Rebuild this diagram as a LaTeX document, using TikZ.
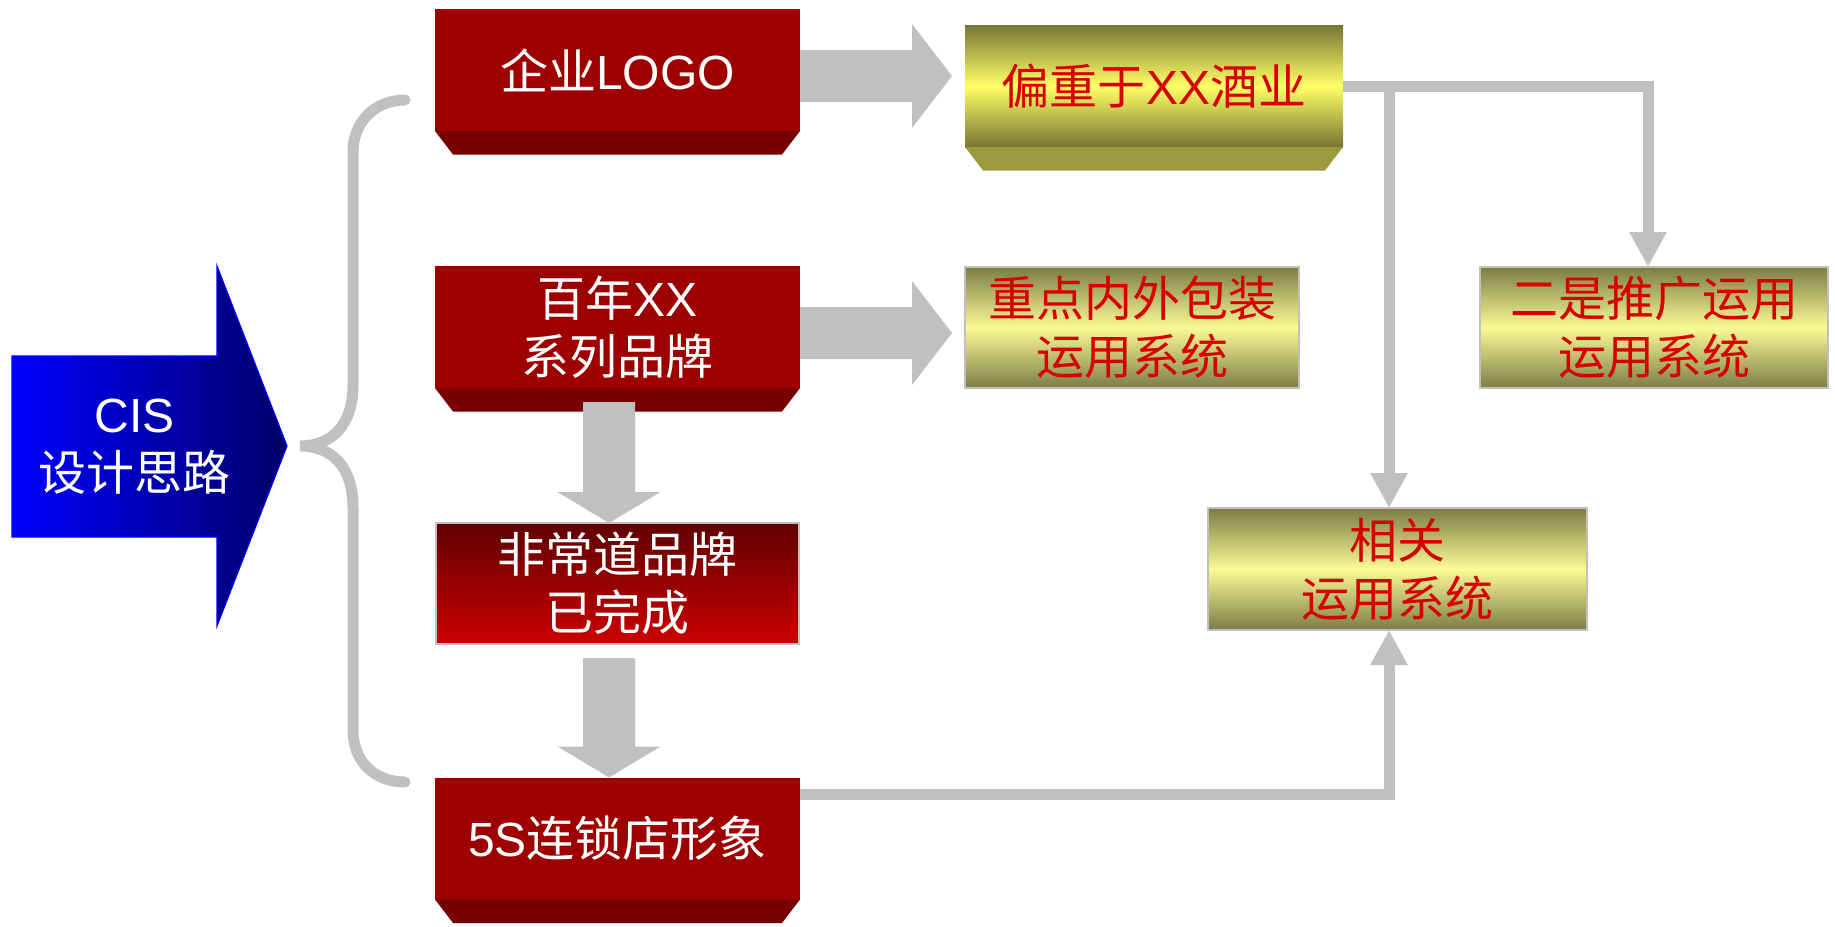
\documentclass[tikz,border=0pt]{standalone}
\usepackage{fontspec}
\setmainfont{Liberation Sans}
\newfontfamily\cjk{Noto Sans CJK SC}
\usetikzlibrary{arrows.meta,calc}
\definecolor{rfront}{RGB}{158,0,0}
\definecolor{rbevel}{RGB}{120,0,0}
\definecolor{rtop}{RGB}{96,0,0}
\definecolor{rbot}{RGB}{204,0,0}
\definecolor{yolive}{RGB}{118,118,52}
\definecolor{ymid}{RGB}{255,255,102}
\definecolor{ybevel}{RGB}{154,154,62}
\definecolor{polive}{RGB}{124,124,70}
\definecolor{pmid}{RGB}{250,250,150}
\definecolor{agray}{RGB}{192,192,192}
\definecolor{bleft}{RGB}{0,0,255}
\definecolor{bright}{RGB}{0,0,105}
\definecolor{ytext}{RGB}{215,0,0}
\newcommand\mybevel[2]{\fill[#2] (#1.south west) -- (#1.south east) -- ([shift={(-9pt,-11.75pt)}]#1.south east) -- ([shift={(9pt,-11.75pt)}]#1.south west) -- cycle;}
\newcommand\rarrow[2]{\fill[agray] let \p1=(#1.east), \p2=(#2.west) in
 (\x1,\y1+10pt) -- (\x2-26.5pt,\y1+10pt) -- (\x2-26.5pt,\y1+23pt) -- (\x2-6.5pt,\y1-3pt) -- (\x2-26.5pt,\y1-29pt) -- (\x2-26.5pt,\y1-16pt) -- (\x1,\y1-16pt) -- cycle;}
\newcommand\darrow[2]{\fill[agray] let \p1=(#1.south), \p2=(#2.north) in
 (\x1-17.25pt,\y1-7pt) -- (\x1+8.75pt,\y1-7pt) -- (\x1+8.75pt,\y2+15.5pt) -- (\x1+21.5pt,\y2+15.5pt) -- (\x1-4.25pt,\y2) -- (\x1-30pt,\y2+15.5pt) -- (\x1-17.25pt,\y2+15.5pt) -- cycle;}
\begin{document}
\begin{tikzpicture}[x=0.5pt,y=-0.5pt,
  box/.style={minimum width=182.5pt, minimum height=61pt, inner sep=0pt, outer sep=0pt, align=center, font=\fontsize{24pt}{29pt}\selectfont},
  redbox/.style={box, fill=rfront, text=white},
  ybox/.style={box, text=ytext, top color=yolive, bottom color=yolive, middle color=ymid},
  pbox/.style={box, text=ytext, draw=agray, line width=1pt, top color=polive, bottom color=polive, middle color=pmid},
  conn/.style={draw=agray, line width=5.5pt, -{Triangle[width=17.5pt,length=17.5pt]}},
]
\useasboundingbox (0,0) rectangle (1835,926);
% CIS arrow
\shadedraw[left color=bleft, right color=bright, draw=blue, line width=0.6pt]
  (12,356) -- (217,356) -- (217,266) -- (287,446) -- (217,626) -- (217,537) -- (12,537) -- cycle;
\node[font=\fontsize{24pt}{29pt}\selectfont, text=white, align=center] (cis) at (135,447) {CIS\\{\cjk 设计思路}};
% brace
\draw[agray, line width=5.5pt, line cap=round] (405,100) .. controls (375,100) and (353,122) .. (353,152) -- (353,385) .. controls (353,425) and (332,446) .. (300,446) .. controls (332,446) and (353,467) .. (353,507) -- (353,730) .. controls (353,762) and (375,782) .. (405,782);
% red boxes
\node[redbox] (r1) at (617.5,70) {{\cjk 企业}LOGO};
\node[redbox] (r2) at (617.5,327) {{\cjk 百年}XX\\{\cjk 系列品牌}};
\node[box, text=white, top color=rtop, bottom color=rbot, draw=agray, line width=1pt, minimum width=181.5pt, minimum height=60.5pt] (r3) at (617.5,583.5) {{\cjk 非常道品牌}\\{\cjk 已完成}};
\node[redbox] (r4) at (617.5,838.5) {5S{\cjk 连锁店形象}};
\mybevel{r1}{rbevel}
\mybevel{r2}{rbevel}
\mybevel{r4}{rbevel}
% yellow boxes
\node[ybox, minimum width=189pt] (y1) at (1154,86) {{\cjk 偏重于}XX{\cjk 酒业}};
\mybevel{y1}{ybevel}
\node[pbox, minimum width=167pt, minimum height=60.5pt] (y2) at (1132,327.5) {{\cjk 重点内外包装}\\{\cjk 运用系统}};
\node[pbox, minimum width=174pt, minimum height=60.5pt] (y3) at (1654,327.5) {{\cjk 二是推广运用}\\{\cjk 运用系统}};
\node[pbox, minimum width=189.5pt, minimum height=61pt] (y4) at (1397.5,569) {{\cjk 相关}\\{\cjk 运用系统}};
% block arrows
\rarrow{r1}{y1}
\rarrow{r2}{y2}
\darrow{r2}{r3}
\darrow{r3}{r4}
% connectors
\coordinate (br) at ($(y1.east)+(46,0)$);
\coordinate (b3) at ($(y3.north)+(-6,0)$);
\coordinate (s5) at ($(r4.north east)+(0,17)$);
\draw[conn] (y1.east) -| (b3);
\draw[conn] (br) -- (br |- y4.north);
\draw[conn] (s5) -| (br |- y4.south);
\end{tikzpicture}
\end{document}
